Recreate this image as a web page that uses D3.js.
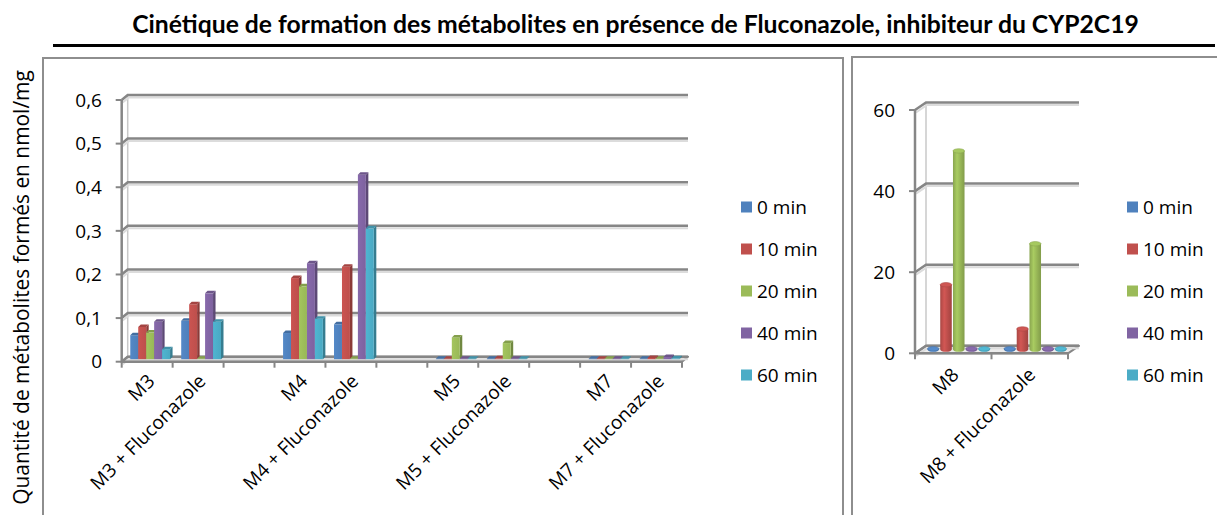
<!DOCTYPE html>
<html>
<head>
<meta charset="utf-8">
<script src="https://cdn.jsdelivr.net/npm/d3@7"></script>
<style>
  html, body { margin: 0; padding: 0; background: #fff; }
  svg { display: block; font-family: "Open Sans", "DejaVu Sans", sans-serif; }
</style>
</head>
<body>
<svg id="chart" width="1217" height="515"></svg>
<script>
// ---- Data -------------------------------------------------------------
const titleText = "Cinétique de formation des métabolites en présence de Fluconazole, inhibiteur du CYP2C19";
const yAxisTitle = "Quantité de métabolites formés en nmol/mg";

const seriesNames  = ["0 min", "10 min", "20 min", "40 min", "60 min"];
const seriesColors = ["#4F81BD", "#C0504D", "#9BBB59", "#8064A2", "#4BACC6"];

// left panel: one empty slot between each metabolite pair
const leftCategories = ["M3", "M3 + Fluconazole", "", "M4", "M4 + Fluconazole", "",
                        "M5", "M5 + Fluconazole", "", "M7", "M7 + Fluconazole"];
// values per category, in series order (0, 10, 20, 40, 60 min), nmol/mg
const valuesM3      = [0.055, 0.074, 0.061, 0.086, 0.023];
const valuesM3Fluco = [0.088, 0.126, 0.001, 0.151, 0.086];
const valuesM4      = [0.060, 0.186, 0.167, 0.220, 0.093];
const valuesM4Fluco = [0.080, 0.212, 0.001, 0.423, 0.300];
const valuesM5      = [0.001, 0.001, 0.050, 0.001, 0.001];
const valuesM5Fluco = [0.001, 0.002, 0.037, 0.001, 0.001];
const valuesM7      = [0.001, 0.001, 0.001, 0.001, 0.001];
const valuesM7Fluco = [0.001, 0.003, 0.001, 0.005, 0.002];
const leftValues = [valuesM3, valuesM3Fluco, null, valuesM4, valuesM4Fluco, null,
                    valuesM5, valuesM5Fluco, null, valuesM7, valuesM7Fluco];
const leftTicks = [0, 0.1, 0.2, 0.3, 0.4, 0.5, 0.6];

// right panel
const rightCategories = ["M8", "M8 + Fluconazole"];
const valuesM8      = [0.2, 16, 49, 0.2, 0.2];
const valuesM8Fluco = [0.2, 5.1, 26.1, 0.2, 0.2];
const rightValues = [valuesM8, valuesM8Fluco];
const rightTicks = [0, 20, 40, 60];

// ---- Setup --------------------------------------------------------------
const svg = d3.select("#chart");
const defs = svg.append("defs");
const fmtComma = d3.formatLocale({ decimal: ",", thousands: " ", grouping: [3], currency: ["", "€"] }).format("~g");

const GRID = "#868686";
const FS = 19;

// gradients per series
seriesColors.forEach((c, j) => {
  const base = d3.color(c);
  const g = defs.append("linearGradient").attr("id", "face" + j).attr("x1", 0).attr("x2", 1).attr("y1", 0).attr("y2", 0);
  g.append("stop").attr("offset", "0%").attr("stop-color", base.brighter(0.15));
  g.append("stop").attr("offset", "100%").attr("stop-color", base.darker(0.05));
  const cy = defs.append("linearGradient").attr("id", "cyl" + j).attr("x1", 0).attr("x2", 1).attr("y1", 0).attr("y2", 0);
  cy.append("stop").attr("offset", "0%").attr("stop-color", base.darker(0.35));
  cy.append("stop").attr("offset", "35%").attr("stop-color", base.brighter(0.25));
  cy.append("stop").attr("offset", "100%").attr("stop-color", base.darker(0.5));
});

// ---- Frames, title ----------------------------------------------------
svg.append("rect").attr("x", 43).attr("y", 58).attr("width", 800).attr("height", 500)
  .attr("fill", "none").attr("stroke", "#8e8e8e").attr("stroke-width", 2);
svg.append("rect").attr("x", 852).attr("y", 57).attr("width", 400).attr("height", 500)
  .attr("fill", "none").attr("stroke", "#8e8e8e").attr("stroke-width", 2);

function fitText(sel, width) {
  const len = sel.node().getComputedTextLength();
  const fs = parseFloat(sel.attr("font-size"));
  sel.attr("font-size", fs * width / len);
}

const title = svg.append("text").attr("x", 635.5).attr("y", 33)
  .attr("text-anchor", "middle").attr("font-weight", "bold").attr("font-size", 20)
  .attr("font-family", "Lato, 'Open Sans', sans-serif")
  .attr("fill", "#000").text(titleText);
fitText(title, 1007);

svg.append("line").attr("x1", 53).attr("x2", 1215).attr("y1", 45.5).attr("y2", 45.5)
  .attr("stroke", "#000").attr("stroke-width", 3);

const yt = svg.append("text").attr("transform", "translate(29,287.5) rotate(-90)")
  .attr("text-anchor", "middle").attr("font-size", 18).attr("fill", "#000").text(yAxisTitle);
fitText(yt, 435);

// ---- 3D frame helper -----------------------------------------------------
function drawFrame(g, cfg) {
  const { x, y, ticks, depth, fmt, labelX, nCats } = cfg;
  const [x0, x1] = x.range();
  const [dx, dy] = depth;
  const y0 = y(0);
  // floor
  g.append("path")
    .attr("d", `M${x0},${y0}L${x1},${y0}L${x1 + dx},${y0 + dy}L${x0 + dx},${y0 + dy}Z`)
    .attr("fill", "#ececec").attr("stroke", GRID).attr("stroke-width", 2).attr("stroke-linejoin", "round");
  // back-wall left edge
  g.append("line").attr("x1", x0 + dx).attr("x2", x0 + dx)
    .attr("y1", y0 + dy).attr("y2", y(ticks[ticks.length - 1]) + dy)
    .attr("stroke", "#c8c8c8").attr("stroke-width", 1.5);
  // gridlines on side and back walls
  ticks.forEach(t => {
    const yy = y(t);
    g.append("path")
      .attr("d", `M${x0 + 1},${yy + 2.5}L${x0 + dx + 1},${yy + dy + 2.5}L${x1 + dx},${yy + dy + 2.5}`)
      .attr("fill", "none").attr("stroke", "#dcdcdc").attr("stroke-width", 2);
    g.append("path")
      .attr("d", `M${x0},${yy}L${x0 + dx},${yy + dy}L${x1 + dx},${yy + dy}`)
      .attr("fill", "none").attr("stroke", GRID).attr("stroke-width", 2.5);
  });
  // vertical axis line and its ticks
  g.append("line").attr("x1", x0).attr("x2", x0).attr("y1", y0 + 1).attr("y2", y(ticks[ticks.length - 1]))
    .attr("stroke", GRID).attr("stroke-width", 2.5);
  ticks.forEach(t => {
    g.append("line").attr("x1", x0 - 6).attr("x2", x0).attr("y1", y(t)).attr("y2", y(t))
      .attr("stroke", GRID).attr("stroke-width", 2);
    g.append("text").attr("x", labelX).attr("y", y(t)).attr("dy", "0.35em")
      .attr("text-anchor", "end").attr("font-size", FS).attr("fill", "#000").text(fmt(t));
  });
  // category axis line and boundary ticks
  g.append("line").attr("x1", x0).attr("x2", x1).attr("y1", y0).attr("y2", y0)
    .attr("stroke", GRID).attr("stroke-width", 2.5);
  const bw = x.bandwidth();
  for (let i = 0; i <= nCats; i++) {
    const xx = x0 + i * bw;
    g.append("line").attr("x1", xx).attr("x2", xx).attr("y1", y0).attr("y2", y0 + 6)
      .attr("stroke", GRID).attr("stroke-width", 2);
  }
}

function drawCategoryLabels(g, x, y, labels, offX, offY) {
  labels.forEach((lab, i) => {
    if (!lab) return;
    const cx = x(i) + x.bandwidth() / 2 + offX;
    const cy = y(0) + offY;
    g.append("text").attr("transform", `translate(${cx},${cy}) rotate(-45)`)
      .attr("text-anchor", "end").attr("dy", "0.35em")
      .attr("font-size", FS).attr("fill", "#000").text(lab);
  });
}

// ---- Left panel: 3D columns ---------------------------------------------
const leftG = svg.append("g");
const xL = d3.scaleBand().domain(d3.range(leftCategories.length)).range([121.7, 682]).paddingInner(0).paddingOuter(0);
const yL = d3.scaleLinear().domain([0, 0.6]).range([361.7, 100]);
const sL = d3.scaleBand().domain(d3.range(seriesNames.length)).range([0, xL.bandwidth()]).paddingInner(0).paddingOuter(0.7);

drawFrame(leftG, { x: xL, y: yL, ticks: leftTicks, depth: [6, -5], fmt: v => fmtComma(v), labelX: 102, nCats: leftCategories.length });

const barShift = [3, -2.5], barDepth = [2.5, -2.5];
leftValues.forEach((vals, i) => {
  if (!vals) return;
  vals.forEach((v, j) => {
    const xs = xL(i) + sL(j) + barShift[0];
    const w = sL.bandwidth();
    const yt0 = yL(v) + barShift[1];
    const yb = yL(0) + barShift[1];
    const [bx, by] = barDepth;
    const base = d3.color(seriesColors[j]);
    // side face
    leftG.append("path")
      .attr("d", `M${xs + w},${yt0}L${xs + w + bx},${yt0 + by}L${xs + w + bx},${yb + by}L${xs + w},${yb}Z`)
      .attr("fill", base.darker(0.9));
    // front face
    leftG.append("rect").attr("x", xs).attr("y", yt0).attr("width", w).attr("height", Math.max(0, yb - yt0))
      .attr("fill", `url(#face${j})`);
    // top face
    leftG.append("path")
      .attr("d", `M${xs},${yt0}L${xs + w},${yt0}L${xs + w + bx},${yt0 + by}L${xs + bx},${yt0 + by}Z`)
      .attr("fill", base.darker(0.45));
  });
});

drawCategoryLabels(leftG, xL, yL, leftCategories, 4, 16);

// ---- Right panel: 3D cylinders ------------------------------------------
const rightG = svg.append("g");
const xR = d3.scaleBand().domain(d3.range(rightCategories.length)).range([915, 1068]).paddingInner(0).paddingOuter(0);
const yR = d3.scaleLinear().domain([0, 60]).range([353.3, 110]);
const sR = d3.scaleBand().domain(d3.range(seriesNames.length)).range([0, xR.bandwidth()]).paddingInner(0).paddingOuter(0.5);

drawFrame(rightG, { x: xR, y: yR, ticks: rightTicks, depth: [11, -7.5], fmt: d3.format("d"), labelX: 895, nCats: rightCategories.length });

const cylShift = [5.5, -3.7], ry = 2.2;
rightValues.forEach((vals, i) => {
  vals.forEach((v, j) => {
    const cx = xR(i) + sR(j) + sR.bandwidth() / 2 + cylShift[0];
    const rx = sR.bandwidth() / 2 - 0.6;
    const ytop = yR(v) + cylShift[1];
    const yb = yR(0) + cylShift[1];
    const base = d3.color(seriesColors[j]);
    rightG.append("path")
      .attr("d", `M${cx - rx},${ytop}L${cx - rx},${yb}A${rx},${ry} 0 0 0 ${cx + rx},${yb}L${cx + rx},${ytop}Z`)
      .attr("fill", `url(#cyl${j})`);
    rightG.append("ellipse").attr("cx", cx).attr("cy", ytop).attr("rx", rx).attr("ry", ry)
      .attr("fill", base.brighter(0.2)).attr("stroke", base.darker(0.3)).attr("stroke-width", 0.6);
  });
});

drawCategoryLabels(rightG, xR, yR, rightCategories, 2, 18);

// ---- Legends -------------------------------------------------------------
function drawLegend(x, rows) {
  const g = svg.append("g");
  seriesNames.forEach((name, j) => {
    const cy = rows[0] + j * (rows[1] - rows[0]);
    g.append("rect").attr("x", x).attr("y", cy - 5.5).attr("width", 11).attr("height", 11)
      .attr("fill", seriesColors[j]);
    g.append("text").attr("x", x + 16).attr("y", cy).attr("dy", "0.35em")
      .attr("font-size", FS).attr("fill", "#000").text(name);
  });
}
drawLegend(741, [207, 249]);
drawLegend(1127, [207, 249]);
</script>
</body>
</html>
